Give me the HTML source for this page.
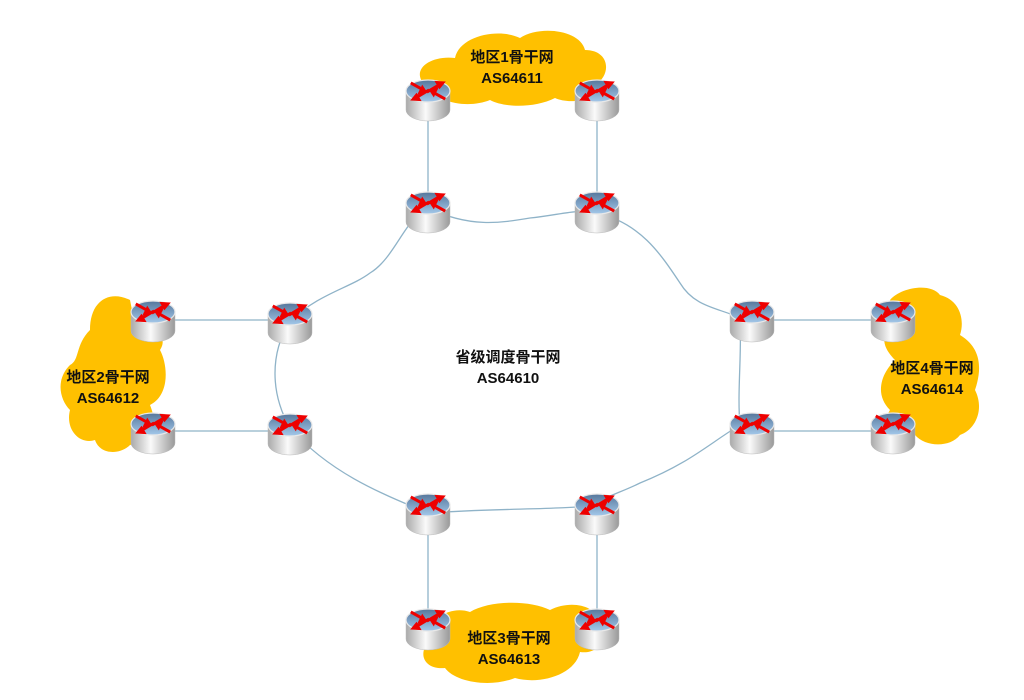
<!DOCTYPE html>
<html><head><meta charset="utf-8"><style>
html,body{margin:0;padding:0;background:#fff;}
svg{display:block;}
text{font-family:"Liberation Sans","Noto Sans CJK SC",sans-serif;font-weight:bold;fill:#111;}
</style></head><body>
<svg width="1024" height="700" viewBox="0 0 1024 700" xmlns="http://www.w3.org/2000/svg">
<defs>
<linearGradient id="top" x1="0" y1="0" x2="0" y2="1"><stop offset="0" stop-color="#56779c"/><stop offset="1" stop-color="#a3c8ea"/></linearGradient>
<linearGradient id="body" x1="0" y1="0" x2="1" y2="0"><stop offset="0" stop-color="#aaa"/><stop offset="0.45" stop-color="#fafafa"/><stop offset="1" stop-color="#999"/></linearGradient>
<g id="r">
<path d="M-22,0 L-22,19 A22,11 0 0 0 22,19 L22,0 Z" fill="url(#body)" stroke="#bbb" stroke-width="0.5"/>
<ellipse cx="0" cy="0" rx="22" ry="11" fill="url(#top)" stroke="#e8e8e8" stroke-width="1.2"/>
<g stroke="#e00" stroke-width="2.6" fill="#e00" transform="scale(1.15)">
<line x1="-1" y1="1" x2="9" y2="-5"/><polygon points="15,-8 6,-8.5 10,-2" stroke-width="0.5"/>
<line x1="1" y1="-1" x2="-9" y2="5"/><polygon points="-15,8 -6,8.5 -10,2" stroke-width="0.5"/>
<line x1="-15" y1="-7" x2="-6" y2="-2"/><polygon points="-1,1 -9,3 -5,-5" stroke-width="0.5"/>
<line x1="15" y1="7" x2="6" y2="2"/><polygon points="1,-1 9,-3 5,5" stroke-width="0.5"/>
</g>
</g>
</defs>
<g fill="#ffc000">
<path d="M425,85 C410,70 430,55 455,58 C460,35 500,28 520,38 C540,25 580,30 585,50 C610,50 612,75 595,85 C600,100 570,105 555,98 C535,108 505,108 490,100 C470,108 440,105 425,85 Z"/>
<path d="M598,620 C612,635 600,655 580,652 C575,675 540,685 515,678 C490,688 455,682 445,668 C420,670 418,648 432,640 C425,620 450,605 470,612 C490,600 530,600 550,610 C570,600 595,605 598,620 Z"/>
<path d="M130,300 C110,290 90,300 90,330 C75,345 80,360 70,365 C55,380 60,400 70,410 C65,430 80,445 95,440 C100,455 120,455 130,445 C150,440 160,430 150,405 C170,395 168,365 160,350 C170,335 150,325 135,325 Z"/>
<path d="M890,300 C900,288 930,282 940,295 C960,300 965,320 960,335 C985,350 980,375 975,390 C985,410 975,430 960,435 C950,448 925,447 915,435 C895,440 880,425 890,410 C875,395 880,375 895,360 C880,345 880,330 900,325 Z"/>
</g>
<g stroke="#8fb3c8" stroke-width="1.3" fill="none">
<line x1="428" y1="108" x2="428" y2="203"/>
<line x1="597" y1="108" x2="597" y2="203"/>
<line x1="428" y1="505" x2="428" y2="620"/>
<line x1="597" y1="505" x2="597" y2="620"/>
<line x1="153" y1="320" x2="290" y2="320"/>
<line x1="153" y1="431" x2="290" y2="431"/>
<line x1="752" y1="320" x2="893" y2="320"/>
<line x1="752" y1="431" x2="893" y2="431"/>
<path d="M428,208 C470,228 500,223 530,218 C560,215 580,208 597,213 C640,223 660,253 680,283 C695,308 720,308 740,318 C742,353 737,393 740,425 C710,443 690,463 640,483 C620,493 600,498 597,505 C560,510 500,508 428,513 C380,493 330,473 290,428 C270,393 270,353 290,321 C320,293 350,288 370,273 C395,258 405,218 428,208"/>
</g>
<use href="#r" x="428" y="91"/><use href="#r" x="597" y="91"/>
<use href="#r" x="428" y="203"/><use href="#r" x="597" y="203"/>
<use href="#r" x="153" y="312"/><use href="#r" x="153" y="424"/>
<use href="#r" x="290" y="314"/><use href="#r" x="290" y="425"/>
<use href="#r" x="752" y="312"/><use href="#r" x="752" y="424"/>
<use href="#r" x="893" y="312"/><use href="#r" x="893" y="424"/>
<use href="#r" x="428" y="505"/><use href="#r" x="597" y="505"/>
<use href="#r" x="428" y="620"/><use href="#r" x="597" y="620"/>
<g font-size="15" text-anchor="middle">
<text x="512" y="62">地区1骨干网</text><text x="512" y="83">AS64611</text>
<text x="108" y="382">地区2骨干网</text><text x="108" y="403">AS64612</text>
<text x="932" y="373">地区4骨干网</text><text x="932" y="394">AS64614</text>
<text x="509" y="643">地区3骨干网</text><text x="509" y="664">AS64613</text>
<text x="508" y="362">省级调度骨干网</text><text x="508" y="383">AS64610</text>
</g>
</svg>
</body></html>
